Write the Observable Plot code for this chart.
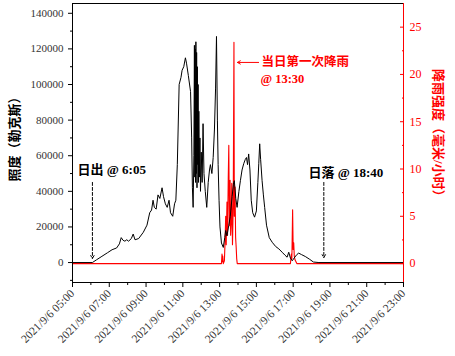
<!DOCTYPE html>
<html><head><meta charset="utf-8">
<script src="https://cdn.jsdelivr.net/npm/d3@7"></script>
<script src="https://cdn.jsdelivr.net/npm/@observablehq/plot@0.6"></script>
<style>body{margin:0;background:#fff}#chart svg{display:block}</style>
</head><body><div id="chart"></div>
<script>
// Illuminance (lux) over the day, hour of day
const lightHours = [5,6.08,6.3,6.6,6.9,7.15,7.4,7.55,7.65,7.75,7.85,7.95,8.05,8.2,8.3,8.4,8.6,8.85,9.05,9.2,9.3,9.38,9.45,9.55,9.65,9.75,9.87,9.95,10.05,10.15,10.25,10.33,10.45,10.55,10.62,10.7,10.8,10.9,10.96,11.05,11.14,11.2,11.3,11.42,11.48,11.52,11.56,11.6,11.63,11.65,11.67,11.69,11.71,11.73,11.75,11.77,11.79,11.81,11.83,11.85,11.87,11.9,11.93,11.96,12.0,12.05,12.1,12.15,12.22,12.3,12.38,12.45,12.5,12.58,12.65,12.72,12.78,12.83,12.88,12.92,12.97,13.02,13.1,13.2,13.28,13.33,13.4,13.5,13.58,13.68,13.75,13.8,13.88,13.95,14.05,14.13,14.22,14.31,14.4,14.46,14.52,14.58,14.65,14.72,14.8,14.9,15.0,15.08,15.13,15.18,15.23,15.31,15.38,15.45,15.55,15.7,15.86,16.05,16.22,16.4,16.55,16.67,16.76,16.85,16.95,17.05,17.2,17.3,17.45,17.66,17.9,18.1,18.4,23];
const lightLux = [0,0,1500,3500,5500,7200,8200,10500,14000,12500,12000,12800,12000,13500,16000,12800,13500,17000,21000,28000,29500,35000,31000,30000,38000,36000,42000,37000,33000,31000,35000,28000,26000,33000,35000,55000,100000,104000,108000,110000,115000,112000,105000,96000,70000,42000,31000,60000,122000,48000,120000,45000,124000,50000,118000,42000,110000,55000,100000,45000,85000,48000,70000,40000,62000,45000,78000,50000,40000,31000,45000,52000,55000,50000,59000,75000,98000,127000,80000,55000,35000,20000,11000,8500,14000,18000,15000,21000,26000,37000,44000,46000,36000,31000,40000,46000,52000,55500,58000,59000,55000,61000,52000,35000,28000,25500,29000,45000,55500,66700,58000,46000,38000,31000,21000,14000,11400,9000,7700,5800,4200,3000,5800,2500,1000,2500,4500,5300,4500,3400,1800,300,0,0];
// Rain intensity (mm/h)
const rainHours = [5,13.1,13.13,13.15,13.17,13.2,13.26,13.3,13.33,13.36,13.4,13.43,13.47,13.5,13.53,13.57,13.6,13.63,13.66,13.7,13.74,13.78,13.8,13.84,13.87,13.9,13.93,13.96,16.85,16.9,16.93,16.97,17.0,17.03,17.06,17.1,17.2,23];
const rainMm = [0,0,1.0,0.2,0.8,0,0.3,2.5,5,2,6.5,3,9,12.5,4,8.8,3,4.3,8.5,2,6,23.4,5,8.1,2.8,1.75,0.5,0,0,1.0,0.5,5.7,1.5,2.2,0.8,0.4,0,0];

const xDomain = [5, 23];
const xTicks = [5,7,9,11,13,15,17,19,21,23];
const xTickLabels = ["2021/9/6 05:00","2021/9/6 07:00","2021/9/6 09:00","2021/9/6 11:00","2021/9/6 13:00","2021/9/6 15:00","2021/9/6 17:00","2021/9/6 19:00","2021/9/6 21:00","2021/9/6 23:00"];
const xMinor = [6,8,10,12,14,16,18,20,22];
const luxDomain = [-11200, 145500];
const luxTicks = [0,20000,40000,60000,80000,100000,120000,140000];
const luxMinor = [-10000,10000,30000,50000,70000,90000,110000,130000];
const rainDomain = [-2, 27.5];
const rainTicks = [0,5,10,15,20,25];
const rainMinor = [2.5,7.5,12.5,17.5,22.5];

const titles = ["照度（勒克斯）", "降雨强度（毫米/小时）"];
const titleHour = [1.85, 24.9];
const titleRotate = [-90, 90];
const sunLabels = ["日出 @ 6:05", "日落 @ 18:40"];
const sunTextHour = [5.27, 17.83];
const sunTextLux = [52000, 50500];
const sunHour = [6.083, 18.667];
const sunArrowTop = [45000, 45000];
const sunArrowEnd = [2300, 2800];
const rainNote = ["当日第一次降雨", "@ 13:30"];
const rainNoteHour = [15.28, 15.22];
const rainNoteLux = [112400, 103200];
const rainArrowFrom = [15.12, 112400];
const rainArrowTo = [13.97, 112400];

const toLux = d3.scaleLinear(rainDomain, luxDomain);
const light = lightHours.map((h, i) => ({h, v: lightLux[i]}));
const rain = rainHours.map((h, i) => ({h, v: toLux(rainMm[i])}));
const red = "#ff0000";
const serif = "'Liberation Serif','Times New Roman','Noto Sans CJK SC',serif";
const cjk = "'Liberation Serif','Noto Sans CJK SC',serif";
const luxMid = (luxDomain[0] + luxDomain[1]) / 2 + 4000;

const chart = Plot.plot({
  width: 455, height: 356,
  marginLeft: 72, marginRight: 52, marginTop: 3, marginBottom: 74,
  style: {fontFamily: serif, fontSize: "11px", background: "#fff"},
  x: {domain: xDomain, label: null},
  y: {domain: luxDomain, label: null},
  marks: [
    Plot.line(rain, {x: "h", y: "v", stroke: red, strokeWidth: 1.1}),
    Plot.line(light, {x: "h", y: "v", stroke: "#000", strokeWidth: 1}),
    // frame
    Plot.ruleY([luxDomain[1]], {stroke: "#000"}),
    Plot.ruleY([luxDomain[0]], {stroke: "#000"}),
    Plot.ruleX([xDomain[0]], {stroke: "#000"}),
    Plot.ruleX([xDomain[1]], {stroke: red}),
    // left axis
    Plot.axisY(luxTicks, {anchor: "left", label: null, tickSize: 4, tickPadding: 5, tickFormat: d3.format("d"), fill: "#333", fontSize: 11}),
    Plot.axisY(luxMinor, {anchor: "left", label: null, tickSize: 2, tickFormat: () => ""}),
    // right axis (rain)
    Plot.axisY(rainTicks.map(toLux), {anchor: "right", label: null, tickSize: -4, tickFormat: () => "", stroke: red}),
    Plot.axisY(rainMinor.map(toLux), {anchor: "right", label: null, tickSize: -2, tickFormat: () => "", stroke: red}),
    Plot.axisY(rainTicks.map(toLux), {anchor: "right", label: null, tickSize: 0, tickPadding: 6, tickFormat: (d) => String(Math.round(toLux.invert(d))), fill: red, fontSize: 12}),
    // bottom axis
    Plot.axisX(xTicks, {anchor: "bottom", label: null, tickSize: 5, tickRotate: -45, tickPadding: 4, tickFormat: (d) => xTickLabels[xTicks.indexOf(d)], fill: "#333", fontSize: 11.5}),
    Plot.axisX(xMinor, {anchor: "bottom", label: null, tickSize: 3, tickFormat: () => ""}),
    // axis titles
    Plot.text(titles, {x: (d, i) => titleHour[i], y: luxMid, rotate: (d, i) => titleRotate[i], fontSize: 13, fontWeight: "bold", fill: (d, i) => i ? red : "#000", fontFamily: cjk}),
    // sunrise / sunset annotations
    Plot.text(sunLabels, {x: (d, i) => sunTextHour[i], y: (d, i) => sunTextLux[i], textAnchor: "start", fontSize: 13, fontWeight: "bold", fill: "#000", fontFamily: cjk}),
    Plot.arrow(sunHour, {x1: d => d, x2: d => d, y1: (d, i) => sunArrowTop[i], y2: (d, i) => sunArrowEnd[i], stroke: "#000", strokeDasharray: "3,2", headLength: 5, strokeWidth: 1}),
    // rain annotation
    Plot.text(rainNote, {x: (d, i) => rainNoteHour[i], y: (d, i) => rainNoteLux[i], textAnchor: "start", fontSize: 12.5, fontWeight: "bold", fill: red, fontFamily: cjk}),
    Plot.arrow([0], {x1: rainArrowFrom[0], y1: rainArrowFrom[1], x2: rainArrowTo[0], y2: rainArrowTo[1], stroke: red, headLength: 5, strokeWidth: 1})
  ]
});
document.getElementById("chart").append(chart);
</script></body></html>
